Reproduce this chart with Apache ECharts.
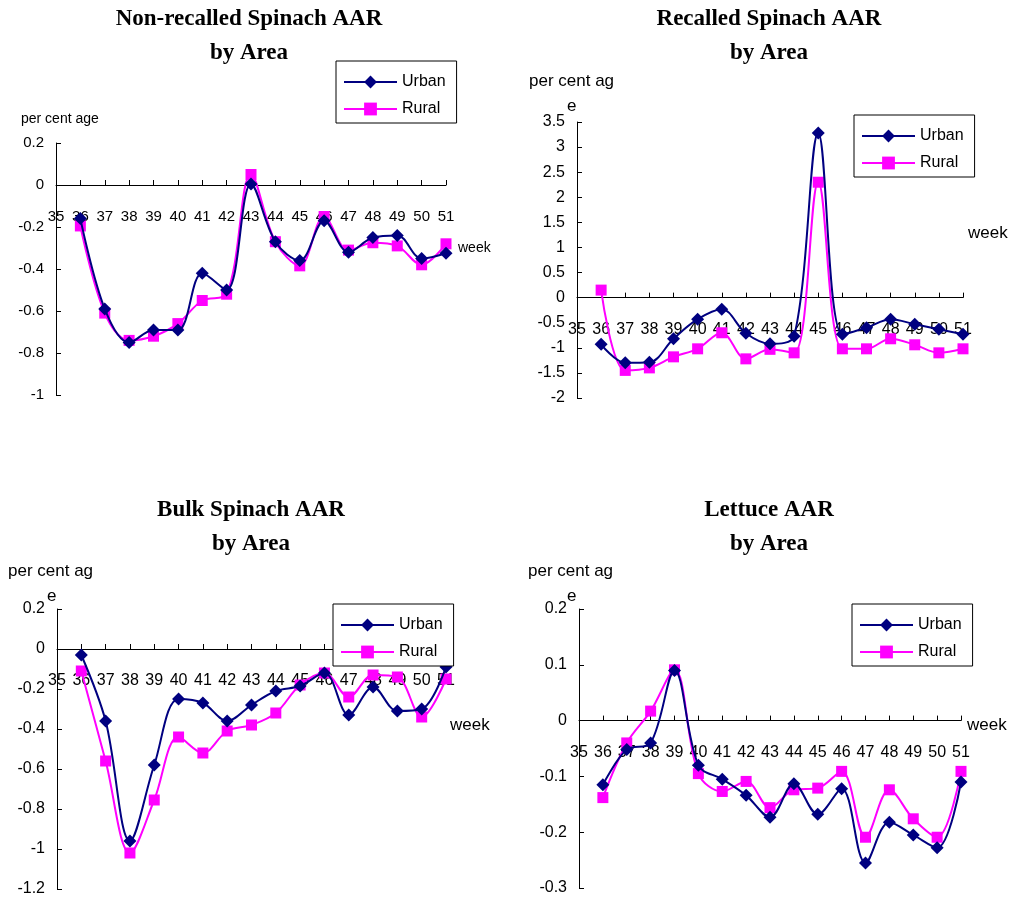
<!DOCTYPE html>
<html>
<head>
<meta charset="utf-8">
<script src="https://cdn.jsdelivr.net/npm/echarts@6/dist/echarts.min.js"></script>
<style>
html,body{margin:0;padding:0;background:#fff;}
#chart{width:1011px;height:905px;}
</style>
</head>
<body>
<div id="chart"></div>
<script>
const weeks = [36,37,38,39,40,41,42,43,44,45,46,47,48,49,50,51];
const xTicks = ['35','36','37','38','39','40','41','42','43','44','45','46','47','48','49','50','51'];
const seriesNames = ['Urban','Rural'];
const chartTitles = ['Non-recalled Spinach AAR\nby Area','Recalled Spinach AAR\nby Area','Bulk Spinach AAR\nby Area','Lettuce AAR\nby Area'];

const nonRecalledUrban = [-0.16,-0.59,-0.75,-0.69,-0.69,-0.42,-0.50,0.005,-0.27,-0.36,-0.17,-0.32,-0.25,-0.24,-0.35,-0.325];
const nonRecalledRural = [-0.195,-0.61,-0.74,-0.72,-0.66,-0.55,-0.52,0.05,-0.27,-0.385,-0.15,-0.31,-0.275,-0.29,-0.38,-0.28];
const recalledUrban = [-0.93,-1.3,-1.29,-0.82,-0.43,-0.23,-0.71,-0.92,-0.77,3.28,-0.73,-0.6,-0.43,-0.53,-0.63,-0.73];
const recalledRural = [0.15,-1.45,-1.4,-1.18,-1.02,-0.7,-1.22,-1.03,-1.1,2.3,-1.02,-1.02,-0.82,-0.94,-1.1,-1.02];
const bulkUrban = [-0.03,-0.36,-0.96,-0.58,-0.25,-0.27,-0.36,-0.28,-0.21,-0.185,-0.12,-0.33,-0.19,-0.31,-0.30,-0.09];
const bulkRural = [-0.11,-0.56,-1.02,-0.755,-0.44,-0.52,-0.41,-0.38,-0.32,-0.18,-0.12,-0.24,-0.13,-0.14,-0.34,-0.15];
const lettuceUrban = [-0.115,-0.052,-0.04,0.09,-0.08,-0.105,-0.134,-0.173,-0.113,-0.168,-0.122,-0.255,-0.182,-0.205,-0.228,-0.11];
const lettuceRural = [-0.138,-0.04,0.017,0.091,-0.095,-0.127,-0.109,-0.156,-0.124,-0.121,-0.091,-0.209,-0.124,-0.176,-0.209,-0.091];

const yMins = [-1,-2,-1.2,-0.3];
const yMaxs = [0.2,3.5,0.2,0.2];
const yIntervals = [0.2,0.5,0.2,0.1];

const panelData = [
  [nonRecalledUrban, nonRecalledRural],
  [recalledUrban, recalledRural],
  [bulkUrban, bulkRural],
  [lettuceUrban, lettuceRural]
];

// layout (pixels)
const grids = [
  {left:56, top:143, width:390, height:252},
  {left:577, top:122, width:386, height:276},
  {left:57, top:609, width:389, height:280},
  {left:579, top:609, width:382, height:279}
];
const titlePos = [{x:249,y:2},{x:769,y:2},{x:251,y:493},{x:769,y:493}];
const legendPos = [{x:336,y:61},{x:854,y:115},{x:333,y:604},{x:852,y:604}];
const labelFont = [15,16,16,16];

const SANS = "'Liberation Sans', Arial, sans-serif";
const SERIF = "'Liberation Serif', 'Times New Roman', serif";
const URBAN_COLOR = '#000080';
const RURAL_COLOR = '#FF00FF';

// the category axis crosses the value axis at zero
function zeroOffset(i){
  return -grids[i].height * (0 - yMins[i]) / (yMaxs[i] - yMins[i]);
}

const option = {
  backgroundColor:'#ffffff',
  animation:false,
  title: chartTitles.map((t,i)=>({
    text:t, left:titlePos[i].x, top:titlePos[i].y, textAlign:'center', padding:0,
    textStyle:{fontFamily:SERIF, fontWeight:'bold', fontSize:23, lineHeight:34, color:'#000'}
  })),
  legend: legendPos.map((p,i)=>({
    data:seriesNames, orient:'vertical', left:p.x, top:p.y,
    backgroundColor:'#fff', borderColor:'#000', borderWidth:1,
    padding:[13,11,6,7], itemGap:11, itemWidth:53, itemHeight:16,
    textStyle:{fontFamily:SANS, fontSize:16, color:'#000'}, z:10
  })),
  grid: grids.map(g=>Object.assign({containLabel:false}, g)),
  xAxis: grids.map((g,i)=>({
    type:'value', gridIndex:i, min:35, max:51, interval:1,
    position:'bottom', offset:zeroOffset(i),
    axisLine:{onZero:false, lineStyle:{color:'#000', width:1}},
    axisTick:{inside:true, length:5, lineStyle:{color:'#000'}},
    axisLabel:{margin:24, fontFamily:SANS, fontSize:labelFont[i], color:'#000',
      formatter:(v)=>xTicks[Math.round(v)-35]},
    splitLine:{show:false}
  })),
  yAxis: grids.map((g,i)=>({
    type:'value', gridIndex:i, min:yMins[i], max:yMaxs[i], interval:yIntervals[i],
    axisLine:{show:true, onZero:false, lineStyle:{color:'#000', width:1}},
    axisTick:{show:true, inside:true, length:5, lineStyle:{color:'#000'}},
    axisLabel:{margin:12, fontFamily:SANS, fontSize:labelFont[i], color:'#000'},
    splitLine:{show:false}
  })),
  series: [],
  graphic: [
    {type:'text', left:21, top:112, style:{text:'per cent age', font:"14px 'Liberation Sans', Arial, sans-serif", fill:'#000'}},
    {type:'text', left:529, top:73, style:{text:'per cent ag', font:"17px 'Liberation Sans', Arial, sans-serif", fill:'#000'}},
    {type:'text', left:567, top:98, style:{text:'e', font:"17px 'Liberation Sans', Arial, sans-serif", fill:'#000'}},
    {type:'text', left:8, top:563, style:{text:'per cent ag', font:"17px 'Liberation Sans', Arial, sans-serif", fill:'#000'}},
    {type:'text', left:47, top:588, style:{text:'e', font:"17px 'Liberation Sans', Arial, sans-serif", fill:'#000'}},
    {type:'text', left:528, top:563, style:{text:'per cent ag', font:"17px 'Liberation Sans', Arial, sans-serif", fill:'#000'}},
    {type:'text', left:567, top:588, style:{text:'e', font:"17px 'Liberation Sans', Arial, sans-serif", fill:'#000'}},
    {type:'text', left:458, top:241, style:{text:'week', font:"14px 'Liberation Sans', Arial, sans-serif", fill:'#000'}},
    {type:'text', left:968, top:225, style:{text:'week', font:"17px 'Liberation Sans', Arial, sans-serif", fill:'#000'}},
    {type:'text', left:450, top:717, style:{text:'week', font:"17px 'Liberation Sans', Arial, sans-serif", fill:'#000'}},
    {type:'text', left:967, top:717, style:{text:'week', font:"17px 'Liberation Sans', Arial, sans-serif", fill:'#000'}}
  ]
};

panelData.forEach((pair,i)=>{
  option.series.push({
    name:seriesNames[0], type:'line', xAxisIndex:i, yAxisIndex:i,
    data:weeks.map((w,k)=>[w,pair[0][k]]),
    smooth:0.35, symbol:'diamond', symbolSize:13,
    lineStyle:{color:URBAN_COLOR, width:2}, itemStyle:{color:URBAN_COLOR}, z:3
  });
  option.series.push({
    name:seriesNames[1], type:'line', xAxisIndex:i, yAxisIndex:i,
    data:weeks.map((w,k)=>[w,pair[1][k]]),
    smooth:0.35, symbol:'rect', symbolSize:11,
    lineStyle:{color:RURAL_COLOR, width:2}, itemStyle:{color:RURAL_COLOR}, z:2
  });
});

const chart = echarts.init(document.getElementById('chart'), null, {renderer:'canvas'});
chart.setOption(option);
</script>
</body>
</html>
